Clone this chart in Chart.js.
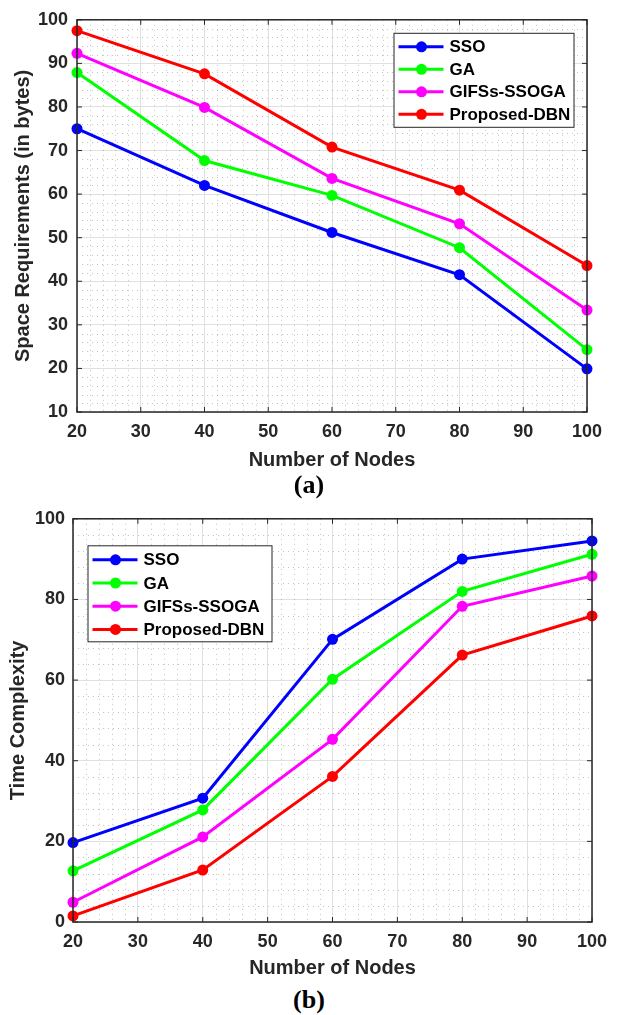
<!DOCTYPE html>
<html>
<head>
<meta charset="utf-8">
<script src="https://cdn.jsdelivr.net/npm/chart.js@4.4.1/dist/chart.umd.min.js"></script>
<style>
  html, body { margin: 0; padding: 0; background: #fff; }
  body { width: 618px; height: 1015px; position: relative; overflow: hidden; }
  .wrap { position: absolute; left: 0; width: 618px; }
  .cap { position: absolute; transform: translate(-50%, -50%); font-family: "Liberation Serif", "Times New Roman", serif;
         font-weight: bold; font-size: 26px; color: #000; white-space: nowrap; }
</style>
</head>
<body>
<div class="wrap" style="top:0;height:472px"><canvas id="spaceChart"></canvas></div>
<div class="cap" style="left:309px;top:485px">(a)</div>
<div class="wrap" style="top:500px;height:480px"><canvas id="timeChart"></canvas></div>
<div class="cap" style="left:309px;top:1000px">(b)</div>

<script>
// x values (number of nodes)
const nodes = [20, 40, 60, 80, 100];
const seriesNames = ['SSO', 'GA', 'GIFSs-SSOGA', 'Proposed-DBN'];
const seriesColors = ['#0000ff', '#00ff00', '#ff00ff', '#ff0000'];

// (a) space requirements (bytes)
const spaceSSO   = [75.0, 62.0, 51.2, 41.5, 19.9];
const spaceGA    = [87.9, 67.7, 59.7, 47.7, 24.3];
const spaceGIFSs = [92.3, 79.9, 63.6, 53.2, 33.4];
const spaceDBN   = [97.5, 87.6, 70.8, 60.9, 43.6];

// (b) time complexity
const timeSSO   = [19.7, 30.7, 70.1, 90.0, 94.5];
const timeGA    = [12.7, 27.8, 60.2, 82.0, 91.2];
const timeGIFSs = [4.9, 21.1, 45.3, 78.3, 85.8];
const timeDBN   = [1.5, 12.9, 36.1, 66.2, 75.9];

const xTicks = [20, 30, 40, 50, 60, 70, 80, 90, 100];

const ink = '#262626';
Chart.defaults.font.family = '"Liberation Sans", Arial, sans-serif';
Chart.defaults.color = ink;

// matlab-ish box: minor dotted grid, frame with inward ticks, boxed legend
const matlabBox = {
  id: 'matlabBox',
  beforeDatasetsDraw(chart, args, o) {
    const { ctx, chartArea: a, scales: { x, y } } = chart;
    const isMajor = (v, step) => Math.abs(v / step - Math.round(v / step)) < 1e-6;
    ctx.save();
    ctx.strokeStyle = 'rgba(38,38,38,0.28)';
    ctx.lineWidth = 1;
    ctx.setLineDash([1, 4]);
    for (let v = x.min; v <= x.max + 1e-9; v += o.minorX) {
      if (isMajor(v, o.majorX)) continue;
      const px = Math.round(x.getPixelForValue(v)) + 0.5;
      ctx.beginPath(); ctx.moveTo(px, a.top); ctx.lineTo(px, a.bottom); ctx.stroke();
    }
    for (let v = y.min; v <= y.max + 1e-9; v += o.minorY) {
      if (isMajor(v, o.majorY)) continue;
      const py = Math.round(y.getPixelForValue(v)) + 0.5;
      ctx.beginPath(); ctx.moveTo(a.left, py); ctx.lineTo(a.right, py); ctx.stroke();
    }
    ctx.restore();
  },
  afterDatasetsDraw(chart, args, o) {
    const { ctx, chartArea: a, scales: { x, y } } = chart;
    ctx.save();
    // frame
    ctx.strokeStyle = ink;
    ctx.lineWidth = 1.5;
    ctx.strokeRect(a.left, a.top, a.right - a.left, a.bottom - a.top);
    // inward ticks
    ctx.lineWidth = 1;
    x.ticks.forEach(t => {
      const px = x.getPixelForValue(t.value);
      ctx.beginPath();
      ctx.moveTo(px, a.bottom); ctx.lineTo(px, a.bottom - 5);
      ctx.moveTo(px, a.top); ctx.lineTo(px, a.top + 5);
      ctx.stroke();
    });
    y.ticks.forEach(t => {
      const py = y.getPixelForValue(t.value);
      ctx.beginPath();
      ctx.moveTo(a.left, py); ctx.lineTo(a.left + 5, py);
      ctx.moveTo(a.right, py); ctx.lineTo(a.right - 5, py);
      ctx.stroke();
    });

    // legend
    const L = o.legend;
    const bx = L.side === 'right' ? a.right - L.dx - L.w : a.left + L.dx;
    const by = a.top + L.dy;
    ctx.fillStyle = '#fff';
    ctx.fillRect(bx, by, L.w, L.h);
    ctx.strokeStyle = ink;
    ctx.lineWidth = 1;
    ctx.strokeRect(bx + 0.5, by + 0.5, L.w, L.h);
    ctx.font = 'bold 17px "Liberation Sans", Arial, sans-serif';
    ctx.textBaseline = 'middle';
    chart.data.datasets.forEach((ds, i) => {
      const cy = by + L.first + i * L.row;
      ctx.strokeStyle = ds.borderColor;
      ctx.lineWidth = 3;
      ctx.beginPath(); ctx.moveTo(bx + 5, cy); ctx.lineTo(bx + 50, cy); ctx.stroke();
      ctx.fillStyle = ds.borderColor;
      ctx.beginPath(); ctx.arc(bx + 28, cy, 5.5, 0, Math.PI * 2); ctx.fill();
      ctx.fillStyle = '#000';
      ctx.fillText(ds.label, bx + 56, cy + 1);
    });
    ctx.restore();
  }
};

function buildChart(id, series, yMin, yMax, yStep, minorY, yTitle, g) {
  const datasets = series.map((vals, i) => ({
    label: seriesNames[i],
    data: nodes.map((n, k) => ({ x: n, y: vals[k] })),
    borderColor: seriesColors[i],
    backgroundColor: seriesColors[i],
    pointBackgroundColor: seriesColors[i],
    pointBorderColor: seriesColors[i],
    borderWidth: 3,
    pointRadius: 5.5,
    pointBorderWidth: 0,
    tension: 0,
    clip: false
  }));

  return new Chart(document.getElementById(id), {
    type: 'line',
    data: { datasets },
    options: {
      responsive: true,
      maintainAspectRatio: false,
      animation: false,
      layout: { padding: { top: g.top, right: g.right, left: 0, bottom: 0 } },
      plugins: {
        legend: { display: false },
        tooltip: { enabled: false },
        matlabBox: { minorX: 2, majorX: 10, minorY: minorY, majorY: yStep, legend: g.legend }
      },
      scales: {
        x: {
          type: 'linear',
          min: 20, max: 100,
          afterBuildTicks: s => { s.ticks = xTicks.map(v => ({ value: v })); },
          afterFit: s => { s.height = g.xHeight; },
          grid: { color: '#e0e0e0', lineWidth: 1, drawTicks: false },
          border: { display: false },
          ticks: { padding: 9, font: { size: 18, weight: 'bold' }, color: ink, maxRotation: 0 },
          title: { display: true, text: 'Number of Nodes', color: ink,
                   font: { size: 20, weight: 'bold' }, padding: { top: 0, bottom: 0 } }
        },
        y: {
          min: yMin, max: yMax,
          ticks: { stepSize: yStep, padding: g.yPad, font: { size: 18, weight: 'bold' }, color: ink },
          afterFit: s => { s.width = g.yWidth; },
          grid: { color: '#e0e0e0', lineWidth: 1, drawTicks: false },
          border: { display: false },
          title: { display: true, text: yTitle, color: ink,
                   font: { size: 20, weight: 'bold' }, padding: { top: g.yTitlePad, bottom: 0 } }
        }
      }
    },
    plugins: [matlabBox]
  });
}

buildChart('spaceChart', [spaceSSO, spaceGA, spaceGIFSs, spaceDBN], 10, 100, 10, 2,
  'Space Requirements (in bytes)',
  { top: 13.5, right: 31, xHeight: 60, yWidth: 77, yPad: 9, yTitlePad: 11,
    legend: { side: 'right', dx: 13.5, dy: 13, w: 180, h: 94, first: 14, row: 22.5 } });

buildChart('timeChart', [timeSSO, timeGA, timeGIFSs, timeDBN], 0, 100, 20, 4,
  'Time Complexity',
  { top: 16, right: 26, xHeight: 58, yWidth: 73, yPad: 8, yTitlePad: 6,
    legend: { side: 'left', dx: 14.5, dy: 26.5, w: 184, h: 96, first: 14.5, row: 23.2 } });
</script>
</body>
</html>
